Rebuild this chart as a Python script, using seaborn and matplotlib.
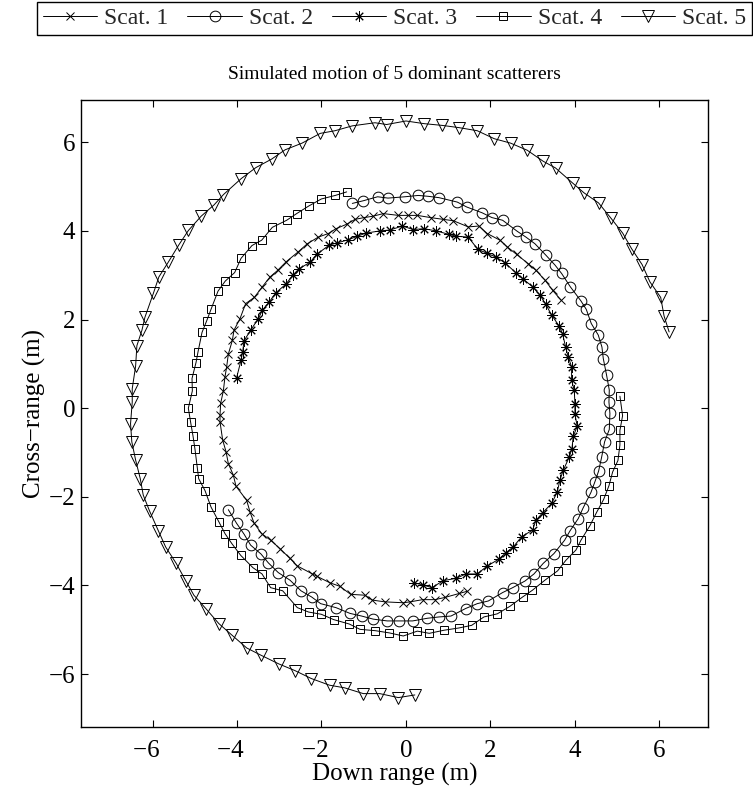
import matplotlib
matplotlib.use("Agg")
import matplotlib.pyplot as plt
import seaborn as sns
import pandas as pd

# ---- data ----
scat1_x = [1.452, 1.262, 0.923, 0.686, 0.394, 0.095, -0.063, -0.497, -0.797, -0.970, -1.310, -1.562,
           -1.799, -2.114, -2.233, -2.572, -2.746, -2.982, -3.203, -3.416, -3.598, -3.692, -3.771,
           -4.024, -4.087, -4.205, -4.260, -4.339, -4.402, -4.402, -4.387, -4.323, -4.284, -4.245,
           -4.205, -4.110, -4.071, -3.929, -3.795, -3.590, -3.400, -3.219, -3.037, -2.840, -2.548,
           -2.335, -2.075, -1.838, -1.657, -1.404, -1.207, -0.994, -0.789, -0.536, -0.181, 0.055,
           0.268, 0.584, 0.884, 1.120, 1.475, 1.728, 1.925, 2.225, 2.398, 2.619, 2.895, 3.077,
           3.290, 3.471, 3.669]
scat1_y = [-4.13, -4.18, -4.27, -4.32, -4.32, -4.37, -4.39, -4.37, -4.33, -4.22, -4.20, -4.02,
           -3.94, -3.79, -3.73, -3.56, -3.39, -3.17, -2.98, -2.83, -2.59, -2.34, -2.08,
           -1.76, -1.51, -1.25, -0.98, -0.72, -0.31, -0.16, 0.11, 0.39, 0.71, 0.93,
           1.22, 1.53, 1.76, 2.02, 2.36, 2.50, 2.74, 2.96, 3.11, 3.30, 3.53,
           3.71, 3.86, 3.94, 4.05, 4.15, 4.26, 4.30, 4.33, 4.39, 4.35, 4.35,
           4.35, 4.30, 4.26, 4.23, 4.09, 4.11, 3.94, 3.79, 3.64, 3.47, 3.26, 3.11,
           2.89, 2.66, 2.44]

scat2_x = [-1.270, -1.010, -0.671, -0.426, -0.024, 0.292, 0.529, 0.781, 1.215, 1.436, 1.799, 2.036,
           2.288, 2.635, 2.840, 3.053, 3.314, 3.527, 3.684, 3.890, 4.142, 4.268, 4.387, 4.552,
           4.639, 4.671, 4.750, 4.813, 4.805, 4.828, 4.813, 4.702, 4.631, 4.560, 4.473, 4.379,
           4.189, 4.079, 3.882, 3.755, 3.503, 3.251, 3.030, 2.817, 2.525, 2.288, 1.949, 1.688,
           1.412, 1.065, 0.781, 0.505, 0.158, -0.166, -0.442, -0.773, -1.049, -1.325, -1.657,
           -2.020, -2.233, -2.485, -2.746, -3.022, -3.258, -3.432, -3.677, -3.834, -4.008, -4.205]
scat2_y = [4.62, 4.68, 4.77, 4.74, 4.77, 4.80, 4.78, 4.75, 4.65, 4.54, 4.41, 4.30,
           4.24, 3.99, 3.86, 3.71, 3.45, 3.23, 3.04, 2.74, 2.42, 2.23, 1.91, 1.65,
           1.38, 1.12, 0.74, 0.41, 0.14, -0.12, -0.48, -0.76, -1.11, -1.42, -1.66, -1.90,
           -2.26, -2.49, -2.77, -2.98, -3.28, -3.50, -3.74, -3.90, -4.05, -4.16, -4.35, -4.41,
           -4.52, -4.69, -4.71, -4.74, -4.80, -4.80, -4.80, -4.76, -4.69, -4.63, -4.50,
           -4.41, -4.26, -4.12, -3.88, -3.71, -3.49, -3.29, -3.09, -2.84, -2.60, -2.29]

scat3_x = [-4.008, -3.905, -3.866, -3.834, -3.677, -3.495, -3.400, -3.235, -3.085, -2.840, -2.682,
           -2.525, -2.272, -2.114, -1.815, -1.625, -1.365, -1.152, -0.947, -0.615, -0.379, -0.087,
           0.174, 0.426, 0.710, 1.026, 1.183, 1.475, 1.696, 1.925, 2.130, 2.343, 2.596, 2.777,
           2.998, 3.172, 3.306, 3.448, 3.629, 3.708, 3.779, 3.842, 3.921, 3.921, 3.984, 4.000,
           4.000, 4.055, 3.961, 3.929, 3.866, 3.724, 3.645, 3.582, 3.448, 3.235, 3.077, 2.998,
           2.738, 2.540, 2.367, 2.193, 1.925, 1.688, 1.420, 1.183, 0.884, 0.615, 0.410, 0.189]
scat3_y = [0.69, 1.08, 1.27, 1.52, 1.76, 2.02, 2.21, 2.40, 2.60, 2.80, 3.00,
           3.15, 3.29, 3.47, 3.68, 3.73, 3.80, 3.88, 3.95, 4.00, 4.02, 4.11,
           4.03, 4.05, 4.00, 3.92, 3.88, 3.86, 3.59, 3.49, 3.41, 3.28, 3.06, 2.91,
           2.74, 2.55, 2.35, 2.10, 1.85, 1.68, 1.38, 1.16, 0.93, 0.63, 0.41, 0.09,
           -0.14, -0.41, -0.63, -0.91, -1.10, -1.40, -1.62, -1.89, -2.15, -2.36, -2.53, -2.75,
           -2.90, -3.13, -3.26, -3.41, -3.56, -3.74, -3.74, -3.84, -3.89, -4.05, -3.99, -3.94]

scat4_x = [-1.404, -1.673, -2.004, -2.304, -2.588, -2.824, -3.164, -3.416, -3.645, -3.905, -4.055,
           -4.276, -4.450, -4.615, -4.718, -4.828, -4.923, -4.970, -5.065, -5.057, -5.152,
           -5.097, -5.041, -4.994, -4.939, -4.907, -4.757, -4.615, -4.426, -4.284, -4.126, -3.913,
           -3.621, -3.408, -3.203, -2.919, -2.572, -2.304, -2.004, -1.712, -1.341, -1.089, -0.726,
           -0.394, -0.063, 0.268, 0.552, 0.899, 1.247, 1.554, 1.846, 2.162, 2.462, 2.761, 2.990,
           3.290, 3.590, 3.787, 4.024, 4.142, 4.355, 4.513, 4.679, 4.805, 4.892, 5.018, 5.065,
           5.065, 5.128, 5.065]
scat4_y = [4.88, 4.80, 4.72, 4.56, 4.39, 4.24, 4.08, 3.79, 3.67, 3.38, 3.06,
           2.87, 2.64, 2.23, 1.97, 1.71, 1.27, 1.03, 0.67, 0.39, 0.00,
           -0.32, -0.63, -0.93, -1.35, -1.59, -1.86, -2.23, -2.57, -2.83, -3.05, -3.32,
           -3.60, -3.74, -4.05, -4.12, -4.50, -4.60, -4.65, -4.77, -4.87, -4.99, -5.02,
           -5.07, -5.14, -5.03, -5.08, -5.01, -4.96, -4.90, -4.71, -4.64, -4.47, -4.26, -4.11,
           -3.88, -3.67, -3.43, -3.20, -2.98, -2.65, -2.35, -2.06, -1.75, -1.44, -1.18, -0.83,
           -0.50, -0.17, 0.27]

scat5_x = [6.23, 6.11, 6.03, 5.775, 5.59, 5.34, 5.13, 4.85, 4.56, 4.213, 3.945, 3.54, 3.25,
           2.87, 2.477, 2.09, 1.688, 1.254, 0.86, 0.426, 0.0, -0.458, -0.734, -1.27, -1.68,
           -2.03, -2.46, -2.86, -3.18, -3.55, -3.90, -4.32, -4.54, -4.85, -5.15, -5.38, -5.63,
           -5.85, -5.98, -6.18, -6.25, -6.37, -6.40, -6.48, -6.48, -6.52, -6.49, -6.40, -6.29,
           -6.22, -6.07, -5.86, -5.69, -5.44, -5.21, -5.02, -4.73, -4.43, -4.12, -3.77, -3.44,
           -3.01, -2.63, -2.24, -1.81, -1.45, -1.01, -0.62, -0.18, 0.21]
scat5_y = [1.72, 2.08, 2.50, 2.85, 3.24, 3.60, 3.95, 4.29, 4.63, 4.86, 5.08, 5.42, 5.57,
           5.82, 5.98, 6.08, 6.26, 6.33, 6.38, 6.42, 6.48, 6.40, 6.44, 6.37, 6.26,
           6.20, 5.98, 5.83, 5.62, 5.43, 5.18, 4.82, 4.59, 4.33, 4.01, 3.68, 3.29,
           2.96, 2.59, 2.05, 1.76, 1.41, 0.95, 0.44, 0.14, -0.35, -0.76, -1.17, -1.59,
           -1.96, -2.32, -2.77, -3.13, -3.50, -3.90, -4.22, -4.53, -4.86, -5.12, -5.41, -5.57,
           -5.77, -5.92, -6.10, -6.25, -6.31, -6.44, -6.44, -6.53, -6.47]

labels = ["Scat. 1", "Scat. 2", "Scat. 3", "Scat. 4", "Scat. 5"]
xticks = [-6, -4, -2, 0, 2, 4, 6]
yticks = [-6, -4, -2, 0, 2, 4, 6]

series = [(scat1_x, scat1_y), (scat2_x, scat2_y), (scat3_x, scat3_y),
          (scat4_x, scat4_y), (scat5_x, scat5_y)]

# ---- style ----
sns.set_theme(style="ticks")
plt.rcParams["font.family"] = ["Liberation Serif", "DejaVu Serif"]
plt.rcParams["axes.unicode_minus"] = True

fig = plt.figure(figsize=(7.53, 7.91), dpi=100)
ax = fig.add_axes([80.7 / 753, 1 - 727.3 / 791, (708 - 80.7) / 753, (727.3 - 99.7) / 791])

markers = ["x", "o", (8, 2, 0), "s", "v"]
msizes = [6, 7.7, 7.5, 6, 8.5]

for (xs, ys), lab, mk, ms in zip(series, labels, markers, msizes):
    df = pd.DataFrame({"x": xs, "y": ys})
    sns.lineplot(data=df, x="x", y="y", sort=False, estimator=None, ax=ax,
                 color="black", linewidth=0.7, marker=mk, markersize=ms,
                 markerfacecolor="none", markeredgecolor="black",
                 markeredgewidth=0.7, label=lab)


def tick_text(v, pad_minus=False):
    if v < 0:
        return "\u2212" + str(abs(v)) + ("\u2002" if pad_minus else "")
    return str(v)


ax.set_xlim(-7.7, 7.15)
ax.set_ylim(-7.2, 6.96)
ax.set_xticks(xticks, labels=[tick_text(v, True) for v in xticks])
ax.set_yticks(yticks, labels=[tick_text(v) for v in yticks])
ax.tick_params(direction="in", length=5, width=0.8, top=True, right=True,
               labelsize=18, colors="black")
ax.tick_params(axis="x", pad=9)
ax.tick_params(axis="y", pad=4)
for s in ax.spines.values():
    s.set_visible(True)
    s.set_linewidth(1.0)
    s.set_color("black")

ax.set_xlabel("Down range (m)", fontsize=18, labelpad=1, color="black")
ax.set_ylabel("Cross\u2212range (m)", fontsize=18, labelpad=2, color="black")
ax.set_title("Simulated motion of 5 dominant scatterers", fontsize=14, pad=15, color="black")

handles, labs = ax.get_legend_handles_labels()
ax.get_legend().remove()
leg = fig.legend(handles, labs, ncol=5, loc="upper left",
                 bbox_to_anchor=(37 / 753, 1 - 2 / 791),
                 frameon=True, fancybox=False, framealpha=1, edgecolor="black",
                 fontsize=17, handlelength=2.3, handletextpad=0.3,
                 columnspacing=0.8, borderpad=0.25, borderaxespad=0)
leg.get_frame().set_linewidth(1.0)

fig.savefig("out.png", dpi=100)
